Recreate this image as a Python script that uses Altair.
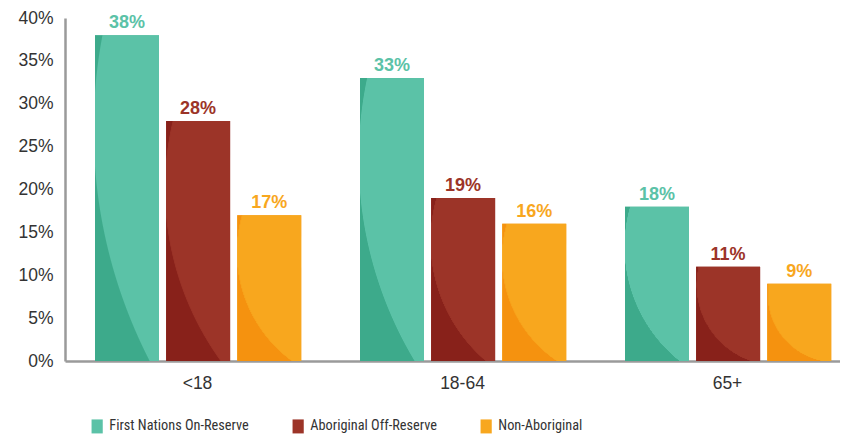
import altair as alt
import numpy as np
import pandas as pd

groups = ["<18", "18-64", "65+"]
series = ["First Nations On-Reserve", "Aboriginal Off-Reserve", "Non-Aboriginal"]
first_nations = [38, 33, 18]
aboriginal_off = [28, 19, 11]
non_aboriginal = [17, 16, 9]
light = ["#5BC2A7", "#9C3428", "#F8A71E"]
dark = ["#3DAA8B", "#88211A", "#F5920F"]
y_ticks = [0, 5, 10, 15, 20, 25, 30, 35, 40]

rows = []
for s, vals in zip(series, [first_nations, aboriginal_off, non_aboriginal]):
    for g, v in zip(groups, vals):
        rows.append({"group": g, "series": s, "value": v, "label": f"{v}%"})
df = pd.DataFrame(rows)

PLOT_W = 775
PLOT_H = 343
YMAX = 40
GROUP_STEP = 265.0
X_INNER = 3 - PLOT_W / GROUP_STEP          # band step of 265 px
BANDWIDTH = GROUP_STEP * (1 - X_INNER)
BAR_W = 64.0
OFF_INNER = 0.1
off_step = BAR_W / (1 - OFF_INNER)
OFF_OUTER = (BANDWIDTH / off_step - (3 - OFF_INNER)) / 2
OFF_ALIGN = 30.0 / (2 * OFF_OUTER * off_step)

# shape of the decorative shading edge, in bar-relative (x/W, y/H from top) units
edge_x = [0.0, 0.02, 0.05, 0.13, 0.18, 0.25, 0.36, 0.52, 0.75, 0.94]
edge_t = [0.0, 0.2, 0.35, 0.5, 0.61, 0.71, 0.81, 0.91, 0.975, 1.0]


def fit_circle(xs, ys):
    xs = np.asarray(xs, float)
    ys = np.asarray(ys, float)
    A = np.column_stack([xs, ys, np.ones_like(xs)])
    b = -(xs**2 + ys**2)
    D, E, F = np.linalg.lstsq(A, b, rcond=None)[0]
    cx, cy = -D / 2, -E / 2
    r = np.sqrt(cx**2 + cy**2 - F)
    return cx, cy, r


def shade(v, lc, dc):
    W = BAR_W
    H = v * PLOT_H / YMAX
    cx, cy, R = fit_circle([e * W for e in edge_x], [t * H for t in edge_t])
    S = max(W, H)
    ox = (W - S) / 2
    oy = (H - S) / 2
    u = float((cx - ox) / S)
    w = float((cy - oy) / S)
    r = float(R / S)
    return alt.RadialGradient(
        gradient="radial",
        x1=u, y1=w, r1=0, x2=u, y2=w, r2=r,
        stops=[
            alt.GradientStop(color=lc, offset=0),
            alt.GradientStop(color=lc, offset=0.998),
            alt.GradientStop(color=dc, offset=1),
        ],
    )


x_enc = alt.X(
    "group:N",
    sort=groups,
    scale=alt.Scale(domain=groups, paddingInner=float(X_INNER), paddingOuter=0),
    axis=alt.Axis(title=None, labelAngle=0, ticks=False, labelPadding=13,
                  labelOffset=float(GROUP_STEP - BANDWIDTH) / 2,
                  labelFontSize=17.5, labelColor="#333333", labelFont="Liberation Sans",
                  domainColor="#9a9a9a", domainWidth=2.5),
)
xoff_enc = alt.XOffset(
    "series:N", sort=series,
    scale=alt.Scale(domain=series, paddingInner=OFF_INNER, paddingOuter=float(OFF_OUTER),
                    align=float(OFF_ALIGN)),
)
y_enc = alt.Y(
    "value:Q",
    scale=alt.Scale(domain=[0, YMAX], nice=False),
    axis=alt.Axis(title=None, values=y_ticks, labelExpr="datum.value + '%'", ticks=False,
                  grid=False, labelPadding=12, labelFontSize=17.5, labelColor="#333333",
                  labelFont="Liberation Sans", domainColor="#9a9a9a", domainWidth=2.5),
)

color_scale = alt.Scale(domain=series, range=light)

base = alt.Chart(df).mark_bar().encode(
    x=x_enc, xOffset=xoff_enc, y=y_enc,
    color=alt.Color(
        "series:N", sort=series, scale=color_scale,
        legend=alt.Legend(
            title=None, orient="none", legendX=25, legendY=401, direction="horizontal",
            symbolType="M-0.8,-1H0.8V1H-0.8Z", symbolSize=196, symbolStrokeWidth=0,
            labelFontSize=14.3, labelLimit=0,
            labelFont="Liberation Sans Narrow, Roboto Condensed, Arial Narrow, sans-serif",
            labelColor="#333333", columnPadding=42, labelOffset=5,
        ),
    ),
)

layers = [base]
for s, vals, lc, dc in zip(series, [first_nations, aboriginal_off, non_aboriginal], light, dark):
    for g, v in zip(groups, vals):
        layers.append(
            alt.Chart(df)
            .transform_filter((alt.datum.series == s) & (alt.datum.group == g))
            .mark_bar(fill=shade(v, lc, dc))
            .encode(x=x_enc, xOffset=xoff_enc, y=y_enc)
        )

text = alt.Chart(df).mark_text(
    fontSize=18, fontWeight="bold", dy=-7, baseline="alphabetic", font="Liberation Sans"
).encode(
    x=x_enc, xOffset=xoff_enc, y=y_enc, text="label:N",
    color=alt.Color("series:N", sort=series, scale=color_scale, legend=None),
)
layers.append(text)

chart = alt.layer(*layers).properties(
    width=PLOT_W, height=PLOT_H,
    padding={"left": 57, "top": 10, "right": 0, "bottom": 76},
    autosize=alt.AutoSizeParams(type="none"),
).configure_view(stroke=None)

chart.save("out.html", embed_options={"renderer": "svg", "actions": False})
